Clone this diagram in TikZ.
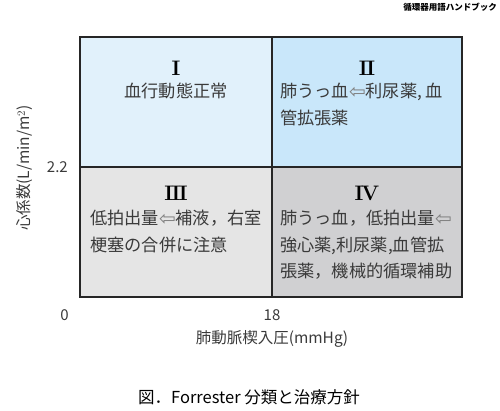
\documentclass[tikz,border=0pt]{standalone}
\usepackage{fontspec}
\newfontfamily\jp{Noto Sans CJK JP}
\newfontfamily\symfont{DejaVu Sans}
\usetikzlibrary{positioning}
\definecolor{quadA}{HTML}{E1F1FB}
\definecolor{quadB}{HTML}{C9E7FA}
\definecolor{quadC}{HTML}{E5E5E5}
\definecolor{quadD}{HTML}{D0D0D2}
\definecolor{inkgray}{HTML}{3A3A3A}
\newcommand{\warr}{{\symfont\fontsize{20}{20}\selectfont\color{black!50}\raisebox{-1pt}{⇦}}}

\begin{document}
\begin{tikzpicture}[
    x=1pt, y=-1pt,
    node distance=10pt,
    quad/.style={draw=black!85, line width=1.3pt, inner sep=0pt, outer sep=0pt, minimum height=130pt},
    num/.style={inner sep=0pt, font=\rmfamily\bfseries\fontsize{21}{21}\selectfont},
    txt/.style={inner sep=0pt, align=left, anchor=north west, text=inkgray, font=\jp\fontsize{17.2}{26.5}\selectfont},
    tick/.style={inner sep=0pt, text=inkgray, font=\jp\fontsize{15}{15}\selectfont},
    axis/.style={inner sep=0pt, text=inkgray, font=\jp\fontsize{15.5}{15.5}\selectfont}
]
\useasboundingbox (0,0) rectangle (500,410);

% quadrants
\node[quad, fill=quadA, minimum width=192pt] (q1) at (176,102) {};
\node[quad, fill=quadB, minimum width=190pt, right=0pt of q1] (q2) {};
\node[quad, fill=quadC, minimum width=192pt, below=0pt of q1] (q3) {};
\node[quad, fill=quadD, minimum width=190pt, below=0pt of q2] (q4) {};

% numerals
\node[num] (n1) at ([yshift=-31pt]q1.north) {I};
\node[num] (n2) at ([yshift=-31pt]q2.north) {I\kern-1.5pt I};
\node[num] (n3) at ([yshift=-26pt]q3.north) {I\kern-1.5pt I\kern-1.5pt I};
\node[num] (n4) at ([yshift=-26pt]q4.north) {I\kern-2pt V};

% texts
\node[txt, anchor=north] (t1) at ([yshift=-46pt]q1.north) {血行動態正常};
\node[txt] (t2) at ([xshift=8pt,yshift=-46pt]q2.north west) {肺うっ血\warr 利尿薬, 血\\管拡張薬};
\node[txt] (t3) at ([xshift=10pt,yshift=-43pt]q3.north west) {低拍出量\warr 補液，右室\\梗塞の合併に注意};
\node[txt] (t4) at ([xshift=8pt,yshift=-43pt]q4.north west) {肺うっ血，低拍出量\warr\\強心薬,利尿薬,血管拡\\張薬，機械的循環補助};

% axes
\node[tick, left=12pt of q3.north west] (ty) {2.2};
\node[tick, below left=12pt and 11pt of q3.south west] (t0) {0};
\node[tick, below=12pt of q3.south east] (t18) {18};
\node[axis, below=10pt of t18] (xlab) {肺動脈楔入圧(mmHg)};
\node[axis, rotate=90] (ylab) at (25,168) {心係数(L/min/m$^2$)};

% caption and header
\node[inner sep=0pt, font=\jp\fontsize{16.5}{16.5}\selectfont] (cap) at (249,397) {図．Forrester 分類と治療方針};
\node[inner sep=0pt, anchor=east, font=\jp\bfseries\fontsize{8.5}{8.5}\selectfont] (head) at (497,7) {循環器用語ハンドブック};
\end{tikzpicture}
\end{document}
